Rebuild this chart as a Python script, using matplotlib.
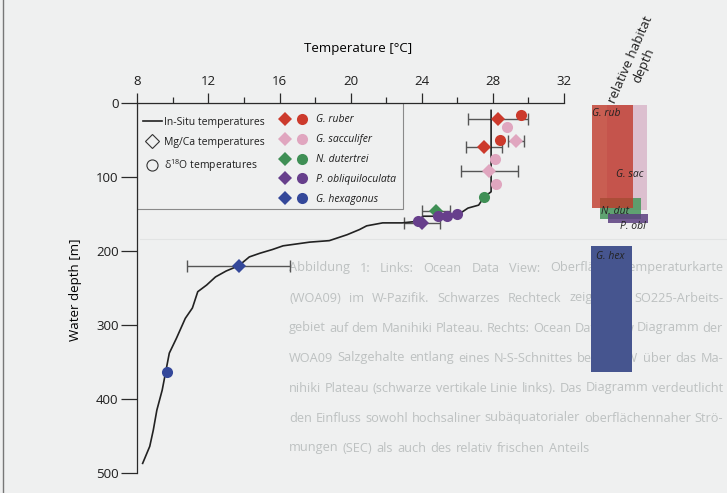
import matplotlib
matplotlib.use("Agg")
from matplotlib import pyplot as plt
from matplotlib.lines import Line2D
from matplotlib.patches import Rectangle
from matplotlib.legend_handler import HandlerTuple
from matplotlib.ticker import MultipleLocator

plt.rcParams['font.family'] = ['Open Sans', 'DejaVu Sans']
plt.rcParams['mathtext.fontset'] = 'custom'
plt.rcParams['mathtext.rm'] = 'Open Sans'
plt.rcParams['text.color'] = '#1e1e1e'
plt.rcParams['xtick.color'] = '#1e1e1e'
plt.rcParams['ytick.color'] = '#1e1e1e'

W, H = 727, 493

# in-situ temperature profile
insitu_temp = [27.9, 27.9, 27.5, 27.2, 26.6, 26.1, 25.0, 24.1, 23.7, 22.9, 21.8, 20.9,
               20.5, 19.8, 18.8, 17.7, 16.2, 15.6, 14.9, 14.3, 13.7, 13.0, 12.4, 11.9,
               11.4, 11.1, 10.7, 10.2, 9.8, 9.6, 9.4, 9.1, 8.9, 8.7, 8.3]
insitu_depth = [10, 120, 127, 138, 142, 150, 153, 153, 160, 162, 162, 166,
                171, 178, 186, 188, 193, 198, 203, 208, 220, 227, 235, 246,
                255, 277, 291, 318, 338, 363, 388, 415, 442, 464, 487]

species = ["G. ruber", "G. sacculifer", "N. dutertrei", "P. obliquiloculata", "G. hexagonus"]
colors = ["#cc3a2c", "#e0a6bf", "#3f8f55", "#673f8c", "#34489a"]

# Mg/Ca temperatures (diamonds) with errors
mg_temp = [[28.3, 27.5], [29.3, 27.8], [24.8], [24.0], [13.7]]
mg_depth = [[22, 59], [51, 92], [146], [162], [220]]
mg_err = [[1.7, 1.0], [0.45, 1.6], [0.8], [1.0], [2.9]]

# d18O temperatures (circles)
o_temp = [[29.6, 28.4], [28.8, 28.1, 28.15], [27.5], [23.8, 24.9, 25.4, 26.0], [9.65]]
o_depth = [[16, 50], [33, 76, 110], [127], [160, 153, 153, 150], [363]]

# relative habitat depth ranges
hab_names = ["G. sac", "N. dut", "G. rub", "P. obl", "G. hex"]
hab_top = [3, 128, 3, 150, 193]
hab_bottom = [145, 157, 142, 162, 363]
hab_colors = ["#dcbfcf", "#4f9a63", "#c0392b", "#5b3f7f", "#46558f"]

# caption text showing through the scan
caption_lines = [
    "Abbildung 1: Links: Ocean Data View: Oberflächentemperaturkarte",
    "(WOA09) im W-Pazifik. Schwarzes Rechteck zeigt das SO225-Arbeits-",
    "gebiet auf dem Manihiki Plateau. Rechts: Ocean Data View Diagramm der",
    "WOA09 Salzgehalte entlang eines N-S-Schnittes bei 165°W über das Ma-",
    "nihiki Plateau (schwarze vertikale Linie links). Das Diagramm verdeutlicht",
    "den Einfluss sowohl hochsaliner subäquatorialer oberflächennaher Strö-",
    "mungen (SEC) als auch des relativ frischen Anteils",
]


def fx(px):
    return px / W


def fy(py):
    return 1 - py / H


fig = plt.figure(figsize=(W / 100, H / 100), dpi=100)
fig.patch.set_facecolor("#eff0f0")
renderer = fig.canvas.get_renderer()

# scan frame and bleed-through
fig.add_artist(Line2D([fx(3), fx(3)], [0, 1], color="#777777", lw=1, zorder=-2))
fig.add_artist(Line2D([fx(140), 1], [fy(239), fy(239)], color="#e2e4e4", lw=0.8, zorder=-2))

cap_left, cap_right = 289, 723
probe = [fig.text(0, 0, s, fontsize=10) for s in caption_lines]
natural = max(t.get_window_extent(renderer).width for t in probe)
for t in probe:
    t.remove()
cap_size = 10 * (cap_right - cap_left) / natural
for k, line in enumerate(caption_lines):
    words = line.split()
    texts = [fig.text(0, fy(268 + 30 * k), w, fontsize=cap_size, color="#bdc1c1",
                      va="center", ha="left", zorder=-1) for w in words]
    widths = [t.get_window_extent(renderer).width for t in texts]
    if k < len(caption_lines) - 1:
        gap = (cap_right - cap_left - sum(widths)) / (len(words) - 1)
    else:
        gap = cap_size * 0.45
    xpos = cap_left
    for t, w in zip(texts, widths):
        t.set_x(fx(xpos))
        xpos += w + gap

ax = fig.add_axes([fx(137.3), fy(473), fx(564) - fx(137.3), fy(103) - fy(473)])
ax.set_facecolor("none")
ax.set_xlim(8, 32)
ax.set_ylim(500, 0)
for s in ["right", "bottom"]:
    ax.spines[s].set_visible(False)
for s in ["top", "left"]:
    ax.spines[s].set_color("#2a2a2a")
    ax.spines[s].set_linewidth(0.9)
ax.xaxis.tick_top()
ax.xaxis.set_major_locator(MultipleLocator(4))
ax.xaxis.set_minor_locator(MultipleLocator(2))
ax.yaxis.set_major_locator(MultipleLocator(100))
ax.tick_params(axis="x", which="major", length=7, width=0.9, pad=4, labelsize=9.5, color="#2a2a2a")
ax.tick_params(axis="x", which="minor", length=4, width=0.9, color="#2a2a2a")
ax.tick_params(axis="y", length=11.5, width=0.9, pad=2, labelsize=9.5, color="#2a2a2a")
ax.set_xlabel("Temperature [°C]", fontsize=9.5)
ax.xaxis.set_label_position("top")
ax.xaxis.set_label_coords((358 - 137.3) / 426.7, (473 - 52) / 370)
ax.set_ylabel("Water depth [m]", fontsize=9.5)
ax.yaxis.set_label_coords((82 - 137.3) / 426.7, (473 - 290) / 370)

# legend frame
ax.add_patch(Rectangle((0, (473 - 209) / 370), (403 - 137.3) / 426.7, 1 - (473 - 209) / 370,
                       transform=ax.transAxes, facecolor="#eff0f0", edgecolor="#8a8a8a",
                       lw=0.8, zorder=1))

# in-situ curve
ax.plot(insitu_temp, insitu_depth, color="#222222", lw=1.2, zorder=3)

# data points
for i in range(len(species)):
    ax.errorbar(mg_temp[i], mg_depth[i], xerr=mg_err[i], fmt="none", ecolor="#555555",
                elinewidth=1.0, capsize=4, capthick=1.0, zorder=2)
    ax.plot(mg_temp[i], mg_depth[i], "D", color=colors[i], ms=7, mew=0, zorder=4)
    ax.plot(o_temp[i], o_depth[i], "o", color=colors[i], ms=8, mew=0, zorder=4)

# legends
h1 = [Line2D([], [], color="#222222", lw=1.2),
      Line2D([], [], ls="none", marker="D", ms=7, mfc="none", mec="#333333", mew=0.8),
      Line2D([], [], ls="none", marker="o", ms=8, mfc="none", mec="#333333", mew=0.8)]
l1 = ["In-Situ temperatures", "Mg/Ca temperatures", r"δ$^{\mathregular{18}}$O temperatures"]
leg1 = ax.legend(h1, l1, loc="upper left", bbox_to_anchor=(fx(143), fy(117)),
                 bbox_transform=fig.transFigure, frameon=False, fontsize=7.5, borderpad=0,
                 borderaxespad=0, handlelength=1.8, handletextpad=0.25, labelspacing=0.85)
ax.add_artist(leg1)

h2 = [(Line2D([], [], ls="none", marker="D", ms=7, color=c, mew=0),
       Line2D([], [], ls="none", marker="o", ms=8, color=c, mew=0)) for c in colors]
leg2 = ax.legend(h2, species, loc="upper left", bbox_to_anchor=(fx(276), fy(114.5)),
                 bbox_transform=fig.transFigure, frameon=False, fontsize=7.5, borderpad=0,
                 borderaxespad=0, handlelength=3.3, handletextpad=0.5, labelspacing=0.85,
                 handler_map={tuple: HandlerTuple(ndivide=None, pad=0)})
for t in leg2.get_texts():
    t.set_fontstyle("italic")

# relative habitat depth panel
ax2 = fig.add_axes([fx(585), fy(473), fx(655) - fx(585), fy(103) - fy(473)])
ax2.set_ylim(500, 0)
ax2.set_xlim(585, 655)
ax2.axis("off")
bar_x = {"G. rub": (591.7, 633.3), "G. sac": (606.7, 647.3), "N. dut": (600, 641),
         "P. obl": (608.3, 648.3), "G. hex": (590.7, 632.3)}
bar_alpha = {"G. rub": 0.8, "G. sac": 1.0, "N. dut": 0.9, "P. obl": 0.85, "G. hex": 1.0}
for name, top, bot, c in zip(hab_names, hab_top, hab_bottom, hab_colors):
    x0, x1 = bar_x[name]
    ax2.bar(x0, bot - top, width=x1 - x0, bottom=top, align="edge", color=c,
            alpha=bar_alpha[name], lw=0)
label_pos = {"G. rub": (592.5, 14), "G. sac": (616, 96), "N. dut": (601, 147),
             "P. obl": (620, 167), "G. hex": (596, 207)}
for name in hab_names:
    lx, ly = label_pos[name]
    ax2.text(lx, ly, name, fontsize=7.5, style="italic", color="#222222", va="center", ha="left")

fig.text(fx(637), fy(62.5), "relative habitat\ndepth", rotation=66.5, rotation_mode="anchor",
         ha="center", va="center", multialignment="center", fontsize=9.5, linespacing=1.15)

plt.savefig("out.png", dpi=100, facecolor=fig.get_facecolor())
